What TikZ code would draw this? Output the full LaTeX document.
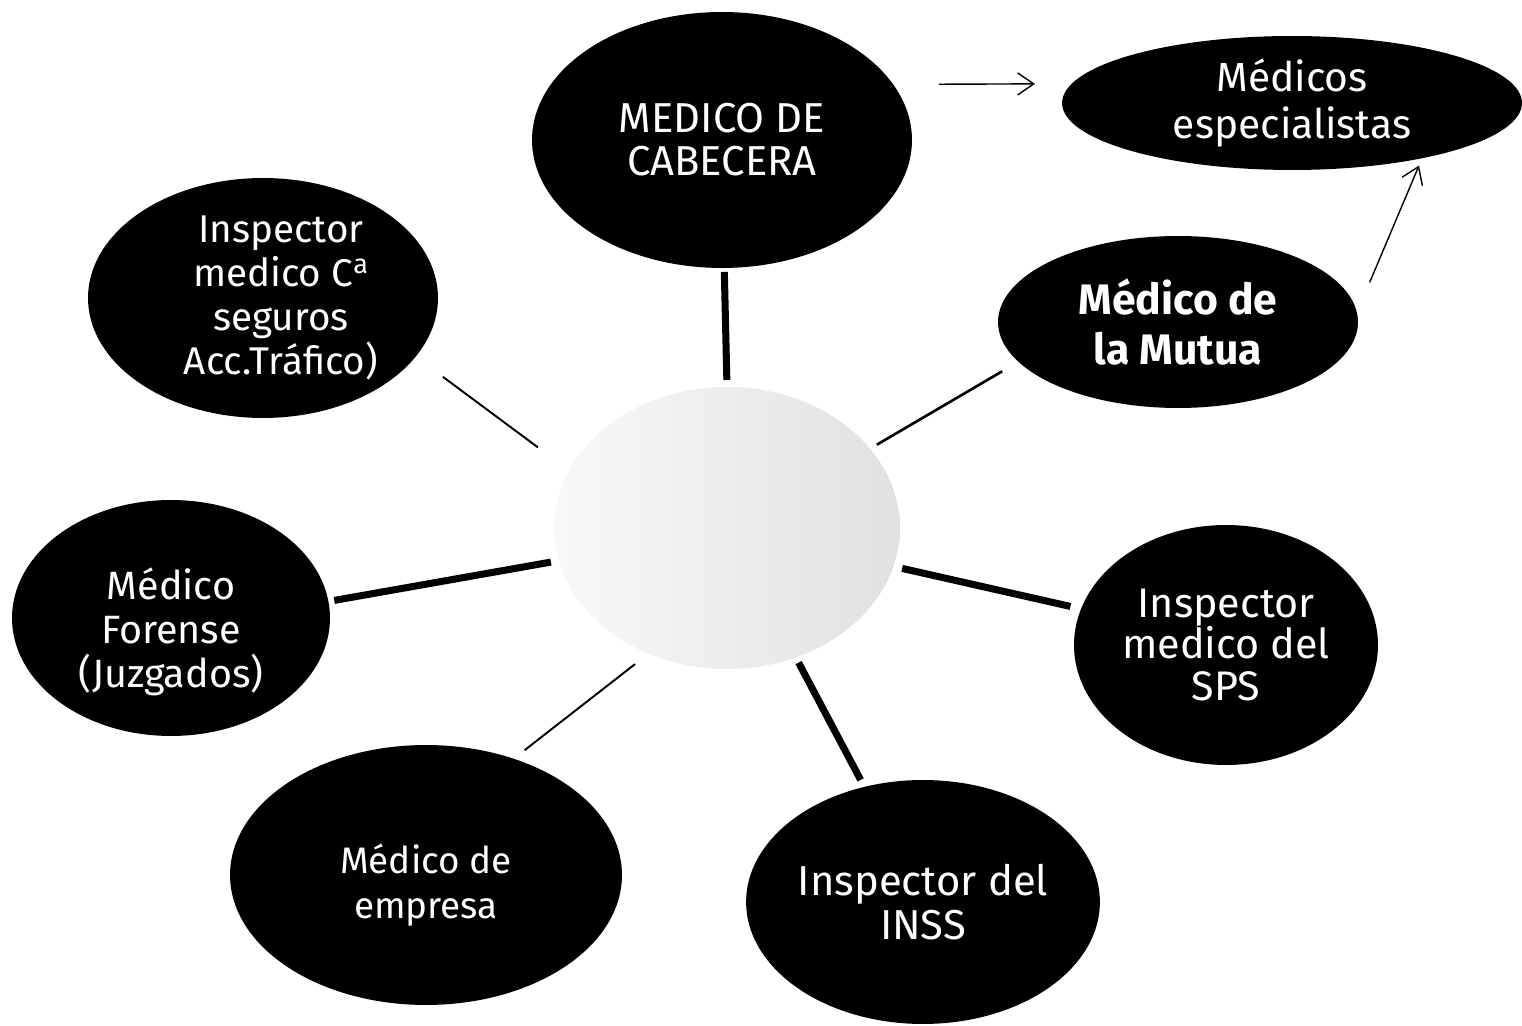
\documentclass[tikz,border=0pt]{standalone}
\usepackage{fontspec}
\setmainfont{Fira Sans}
\usepackage{tikz}
\usetikzlibrary{shapes,arrows.meta}

\tikzset{
  bubble/.style={ellipse, fill=black, text=white, align=center, inner sep=0pt, outer sep=0pt,
    font=\fontsize{22}{24}\selectfont},
  bubbletext/.style={text=white, align=center, inner sep=0pt},
  hubstyle/.style={ellipse, inner sep=0pt, outer sep=0pt, left color=gray!5, right color=gray!24},
  spoke/.style={line width=4pt},
  thinspoke/.style={line width=1.1pt},
  pointer/.style={line width=0.8pt, ->}
}

\begin{document}
\begin{tikzpicture}[x=0.02cm, y=-0.02cm, >={Straight Barb[length=3.2mm,width=4.4mm]}]
\useasboundingbox (0,0) rectangle (1522,1026);
\node[hubstyle, minimum width=6.92cm, minimum height=5.64cm] (hub) at (727,528) {};
\node[bubble, minimum width=7.6cm, minimum height=5.12cm, font=\fontsize{23.8}{24.5}\selectfont] (cab) at (722,140) {MEDICO DE\\CABECERA};
\node[bubble, minimum width=9.2cm, minimum height=2.68cm, font=\fontsize{23.2}{26.5}\selectfont] (esp) at (1292,103) {Médicos\\especialistas};
\node[bubble, minimum width=7.2cm, minimum height=3.44cm, font=\fontsize{24.3}{28}\selectfont\bfseries] (mutua) at (1178,322) {Médico de\\la Mutua};
\node[bubble, minimum width=7.0cm, minimum height=4.8cm,
  label={[name=instext, bubbletext, xshift=0.36cm, font=\fontsize{22}{25}\selectfont]center:Inspector\\medico C\textsuperscript{a}\\seguros\\Acc.Tráfico)}] (ins) at (263,298) {};
\node[bubble, minimum width=6.36cm, minimum height=4.72cm,
  label={[name=forensetext, bubbletext, yshift=-0.28cm, font=\fontsize{22.5}{25}\selectfont]center:Médico\\Forense\\(Juzgados)}] (forense) at (171,618) {};
\node[bubble, minimum width=6.08cm, minimum height=4.8cm, font=\fontsize{23.5}{23.5}\selectfont] (sps) at (1226,645) {Inspector\\medico del\\SPS};
\node[bubble, minimum width=7.84cm, minimum height=5.2cm,
  label={[name=emptext, bubbletext, yshift=-0.2cm, font=\fontsize{21}{25.5}\selectfont]center:Médico de\\empresa}] (emp) at (426,875) {};
\node[bubble, minimum width=7.0cm, minimum height=4.88cm, font=\fontsize{23.8}{25}\selectfont] (inss) at (923,902) {Inspector del\\INSS};
\draw[spoke, shorten <=7*0.567pt, shorten >=4*0.567pt] (hub.90) -- (cab.-89);
\draw[thinspoke, shorten <=39*0.567pt, shorten >=34*0.567pt] (hub.160) -- (ins.-21);
\draw[thinspoke, line width=1.5pt, shorten <=8*0.567pt, shorten >=19*0.567pt] (hub.29) -- (mutua.194);
\draw[spoke, shorten <=8*0.567pt, shorten >=6*0.567pt] (hub.191) -- (forense.6);
\draw[spoke, shorten <=9*0.567pt, shorten >=11*0.567pt] (hub.-13) -- (sps.166);
\draw[thinspoke, shorten <=17*0.567pt, shorten >=14*0.567pt] (hub.238) -- (emp.53);
\draw[spoke, shorten <=6*0.567pt, shorten >=8*0.567pt] (hub.-62) -- (inss.117);
\draw[pointer, shorten <=46*0.567pt, shorten >=37*0.567pt] (cab.18) -- (esp.175);
\draw[pointer, shorten <=33*0.567pt, shorten >=8*0.567pt] (mutua.3) -- (esp.-23);
\end{tikzpicture}
\end{document}
